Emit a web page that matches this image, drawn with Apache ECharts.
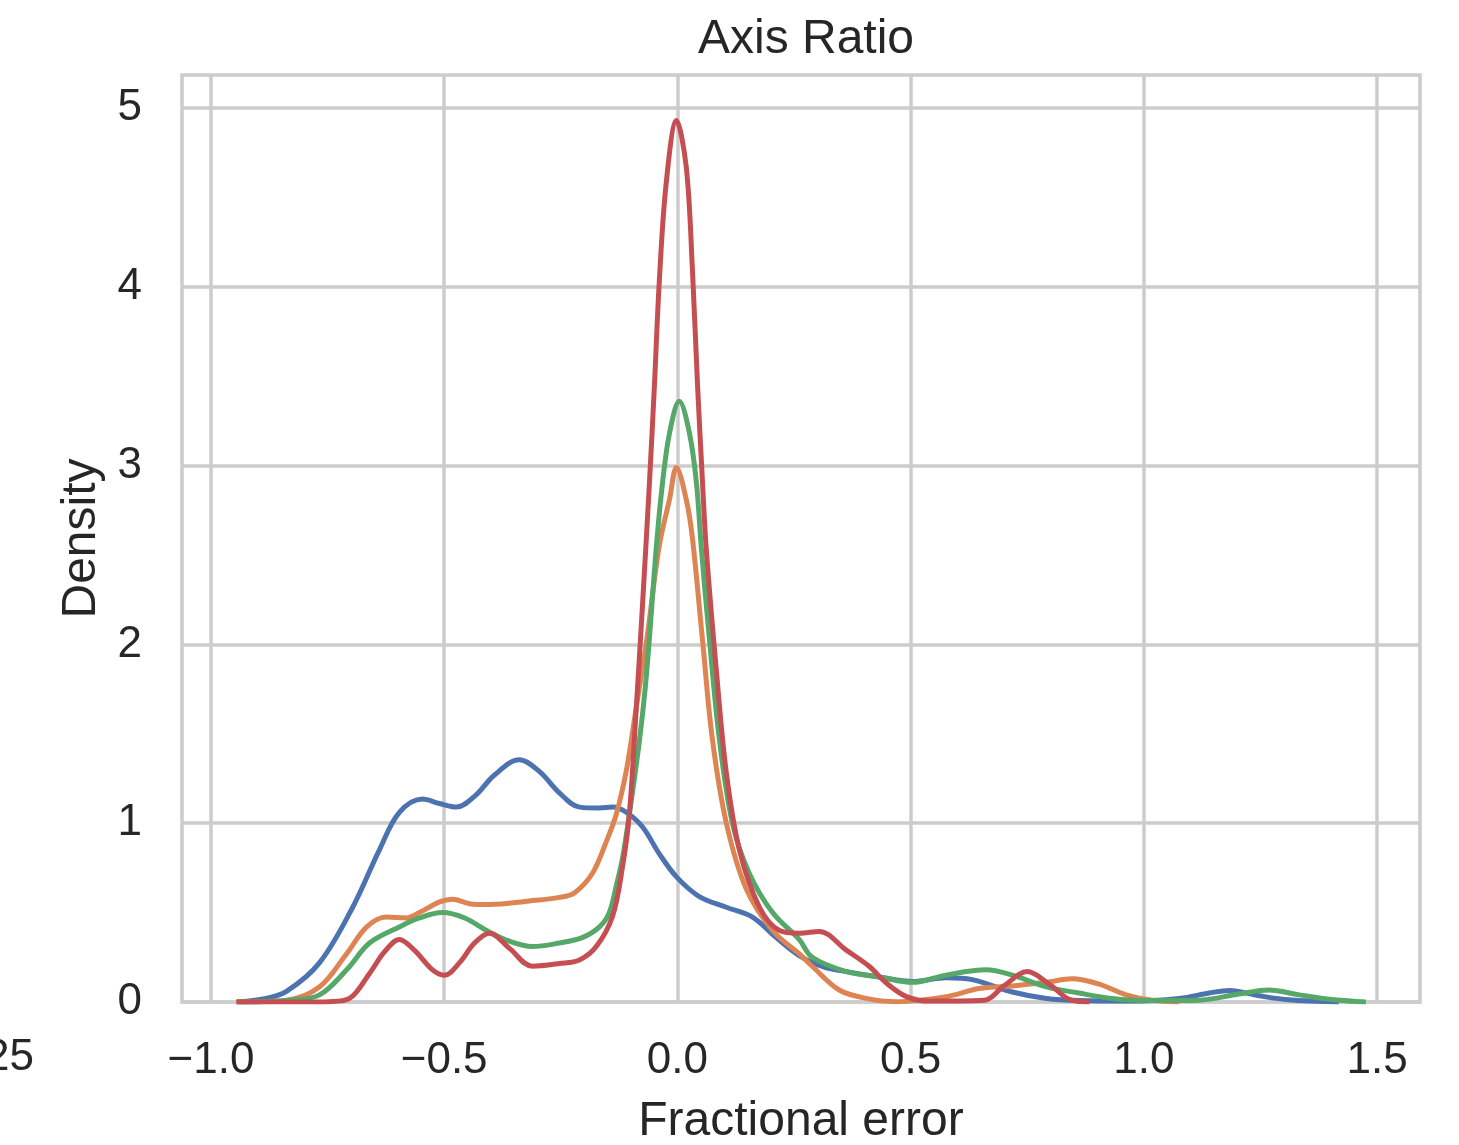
<!DOCTYPE html>
<html>
<head>
<meta charset="utf-8">
<script src="https://cdn.jsdelivr.net/npm/echarts@6/dist/echarts.min.js"></script>
<style>
html,body{margin:0;padding:0;background:#fff;}
#chart{width:1459px;height:1145px;}
</style>
</head>
<body>
<div id="chart"></div>
<script>
// ---- data (fractional error vs density) ----
const xTickValues = [-1.0, -0.5, 0.0, 0.5, 1.0, 1.5];
const yTickValues = [0, 1, 2, 3, 4, 5];

const blueX = [-0.945,-0.891,-0.838,-0.767,-0.696,-0.639,-0.596,-0.546,-0.51,-0.474,-0.435,-0.392,-0.339,-0.296,-0.253,-0.21,-0.167,-0.139,-0.109,-0.075,-0.039,-0.002,0.047,0.105,0.161,0.212,0.261,0.315,0.362,0.433,0.504,0.576,0.632,0.718,0.791,0.861,0.969,1.076,1.14,1.183,1.247,1.311,1.418];
const blueY = [0,0.015,0.06,0.22,0.53,0.85,1.06,1.135,1.11,1.09,1.15,1.27,1.355,1.29,1.17,1.09,1.085,1.09,1.06,0.98,0.83,0.70,0.59,0.53,0.475,0.36,0.26,0.195,0.17,0.14,0.115,0.135,0.125,0.056,0.02,0.008,0.005,0.02,0.05,0.065,0.035,0.012,0];

const orangeX = [-0.945,-0.838,-0.767,-0.709,-0.666,-0.624,-0.581,-0.553,-0.51,-0.482,-0.446,-0.403,-0.317,-0.253,-0.221,-0.182,-0.152,-0.131,-0.109,-0.088,-0.066,-0.039,-0.017,-0.002,0.019,0.032,0.054,0.075,0.105,0.148,0.204,0.261,0.289,0.347,0.405,0.469,0.576,0.647,0.718,0.791,0.846,0.904,0.962,1.018,1.076];
const orangeY = [0,0.01,0.085,0.27,0.42,0.475,0.47,0.50,0.56,0.575,0.55,0.545,0.565,0.585,0.61,0.72,0.9,1.05,1.3,1.65,2.02,2.55,2.81,2.99,2.81,2.6,2.02,1.47,1.0,0.63,0.40,0.27,0.2,0.067,0.02,0.002,0.03,0.075,0.09,0.11,0.13,0.10,0.04,0.01,0];

const greenX = [-0.938,-0.831,-0.767,-0.709,-0.66,-0.596,-0.553,-0.504,-0.456,-0.409,-0.36,-0.311,-0.253,-0.204,-0.167,-0.146,-0.131,-0.118,-0.103,-0.081,-0.066,-0.045,-0.032,-0.017,0.004,0.026,0.041,0.051,0.069,0.09,0.118,0.154,0.204,0.261,0.289,0.362,0.433,0.504,0.576,0.662,0.718,0.791,0.861,0.932,1.005,1.118,1.204,1.268,1.333,1.408,1.476];
const greenY = [0,0.01,0.04,0.18,0.33,0.42,0.47,0.50,0.47,0.40,0.34,0.31,0.33,0.36,0.42,0.5,0.65,0.8,1.05,1.47,1.84,2.55,2.9,3.18,3.36,3.18,2.9,2.55,2.02,1.47,1.0,0.72,0.50,0.35,0.25,0.17,0.14,0.11,0.15,0.18,0.15,0.085,0.05,0.02,0.008,0.01,0.045,0.067,0.04,0.012,0];

const redX = [-0.945,-0.8,-0.746,-0.703,-0.66,-0.628,-0.596,-0.564,-0.525,-0.499,-0.467,-0.435,-0.403,-0.36,-0.311,-0.253,-0.21,-0.174,-0.139,-0.118,-0.103,-0.088,-0.075,-0.06,-0.049,-0.039,-0.024,-0.002,0.019,0.032,0.043,0.054,0.062,0.084,0.105,0.133,0.176,0.219,0.261,0.304,0.362,0.411,0.448,0.491,0.54,0.658,0.7,0.75,0.797,0.84,0.883];
const redY = [0,0,0.002,0.02,0.16,0.28,0.35,0.29,0.18,0.15,0.22,0.33,0.385,0.30,0.2,0.215,0.235,0.31,0.48,0.75,1.05,1.65,2.21,2.9,3.46,4.02,4.58,4.93,4.67,4.11,3.46,2.9,2.53,1.84,1.28,0.85,0.53,0.40,0.385,0.395,0.29,0.20,0.106,0.03,0.005,0.01,0.09,0.17,0.1,0.015,0];

const seriesNames = ['blue', 'orange', 'green', 'red'];
const seriesColors = ['#4c72b0', '#dd8452', '#55a868', '#c44e52'];
const seriesXs = [blueX, orangeX, greenX, redX];
const seriesYs = [blueY, orangeY, greenY, redY];

const FONT = '"Liberation Sans", Arial, sans-serif';
const TXT = '#262626';
const GRIDC = '#cccccc';

function fmtX(v) {
  const s = Math.abs(v).toFixed(1);
  return (v < 0 ? '\u2212' : '') + s;
}

const chart = echarts.init(document.getElementById('chart'), null, {renderer: 'canvas'});
chart.setOption({
  animation: false,
  backgroundColor: '#ffffff',
  title: {
    text: 'Axis Ratio',
    left: 801, top: 11, textAlign: 'center',
    textStyle: {fontFamily: FONT, fontSize: 48, fontWeight: 'normal', color: TXT}
  },
  grid: {
    left: 182, right: 39, top: 75, bottom: 143,
    containLabel: false, outerBoundsMode: 'none',
    show: true, borderColor: GRIDC, borderWidth: 3.5, backgroundColor: 'transparent'
  },
  xAxis: {
    type: 'value',
    min: -1.062, max: 1.592,
    name: 'Fractional error',
    nameLocation: 'middle', nameGap: 96,
    nameTextStyle: {fontFamily: FONT, fontSize: 48, color: TXT},
    axisLine: {show: false},
    axisTick: {show: false, customValues: xTickValues},
    axisLabel: {
      customValues: xTickValues, margin: 37,
      fontFamily: FONT, fontSize: 44, color: TXT,
      formatter: fmtX
    },
    splitLine: {show: true, lineStyle: {color: GRIDC, width: 3.5}}
  },
  yAxis: {
    type: 'value',
    min: 0, max: 5.185,
    name: 'Density',
    nameLocation: 'middle', nameGap: 76,
    nameTextStyle: {fontFamily: FONT, fontSize: 48, color: TXT},
    axisLine: {show: false},
    axisTick: {show: false, customValues: yTickValues},
    axisLabel: {
      customValues: yTickValues, margin: 40,
      fontFamily: FONT, fontSize: 44, color: TXT,
      padding: [16, 0, 0, 0],
      formatter: function (v) { return String(v); }
    },
    splitLine: {show: true, lineStyle: {color: GRIDC, width: 3.5}}
  },
  graphic: [{
    type: 'text', x: 34, y: 1058, silent: true,
    style: {text: '25', fontFamily: FONT, fontSize: 44, fill: TXT,
            align: 'right', verticalAlign: 'middle'}
  }],
  series: seriesNames.map(function (n, i) {
    return {
      name: n, type: 'line', smooth: 0.35, showSymbol: false, clip: true,
      lineStyle: {color: seriesColors[i], width: 5},
      itemStyle: {color: seriesColors[i]},
      data: seriesXs[i].map(function (x, k) { return [x, seriesYs[i][k]]; }),
      z: 2 + i
    };
  })
});
</script>
</body>
</html>
